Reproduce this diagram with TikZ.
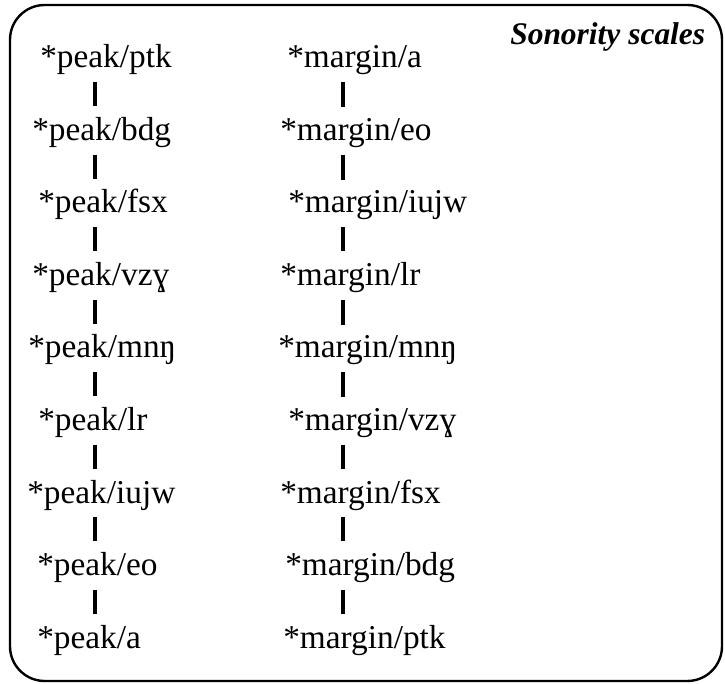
\documentclass[tikz,border=0pt]{standalone}
\usepackage{fontspec}
\setmainfont{Liberation Serif}
\usepackage{tikz}
\usetikzlibrary{positioning}

\begin{document}
\begin{tikzpicture}[
  x=0.75pt,y=-0.75pt,
  rung/.style={anchor=base west,inner xsep=0pt,inner ysep=5pt,
               font=\fontsize{25}{30}\selectfont},
  title/.style={anchor=base west,inner sep=0pt,
                font=\fontsize{23.6}{28}\selectfont\bfseries\itshape},
  link/.style={line width=2.3pt,shorten >=3pt},
  frame/.style={line width=1.8pt,rounded corners=26pt}
]
  \useasboundingbox (0,0) rectangle (725,684);
  \draw[frame] (10,5) rectangle (722,681);
  \node[title] (head) at (510,45) {Sonority scales};

  \coordinate (lpeak) at (95,0);
  \coordinate (lmarg) at (343,0);

  % peak column
  \node[rung] (pptk) at (40,68) {*peak/ptk};
  \node[rung] (pbdg) at (32,140.5) {*peak/bdg};
  \node[rung] (pfsx) at (38,213) {*peak/fsx};
  \node[rung] (pvzg) at (32,285.5) {*peak/vzɣ};
  \node[rung] (pmnn) at (28,358) {*peak/mnŋ};
  \node[rung] (plr) at (38,430.5) {*peak/lr};
  \node[rung] (piujw) at (27,503) {*peak/iujw};
  \node[rung] (peo) at (37,575.5) {*peak/eo};
  \node[rung] (pa) at (37,648) {*peak/a};

  % margin column
  \node[rung] (ma) at (287,68) {*margin/a};
  \node[rung] (meo) at (280,140.5) {*margin/eo};
  \node[rung] (miujw) at (288,213) {*margin/iujw};
  \node[rung] (mlr) at (280,285.5) {*margin/lr};
  \node[rung] (mmnn) at (278,358) {*margin/mnŋ};
  \node[rung] (mvzg) at (288,430.5) {*margin/vzɣ};
  \node[rung] (mfsx) at (280,503) {*margin/fsx};
  \node[rung] (mbdg) at (285,575.5) {*margin/bdg};
  \node[rung] (mptk) at (283,648) {*margin/ptk};

  \draw[link] (pptk.south -| lpeak) -- (pbdg.north -| lpeak);
  \draw[link] (pbdg.south -| lpeak) -- (pfsx.north -| lpeak);
  \draw[link] (pfsx.south -| lpeak) -- (pvzg.north -| lpeak);
  \draw[link] (pvzg.south -| lpeak) -- (pmnn.north -| lpeak);
  \draw[link] (pmnn.south -| lpeak) -- (plr.north -| lpeak);
  \draw[link] (plr.south -| lpeak) -- (piujw.north -| lpeak);
  \draw[link] (piujw.south -| lpeak) -- (peo.north -| lpeak);
  \draw[link] (peo.south -| lpeak) -- (pa.north -| lpeak);

  \draw[link] (ma.south -| lmarg) -- (meo.north -| lmarg);
  \draw[link] (meo.south -| lmarg) -- (miujw.north -| lmarg);
  \draw[link] (miujw.south -| lmarg) -- (mlr.north -| lmarg);
  \draw[link] (mlr.south -| lmarg) -- (mmnn.north -| lmarg);
  \draw[link] (mmnn.south -| lmarg) -- (mvzg.north -| lmarg);
  \draw[link] (mvzg.south -| lmarg) -- (mfsx.north -| lmarg);
  \draw[link] (mfsx.south -| lmarg) -- (mbdg.north -| lmarg);
  \draw[link] (mbdg.south -| lmarg) -- (mptk.north -| lmarg);
\end{tikzpicture}
\end{document}
